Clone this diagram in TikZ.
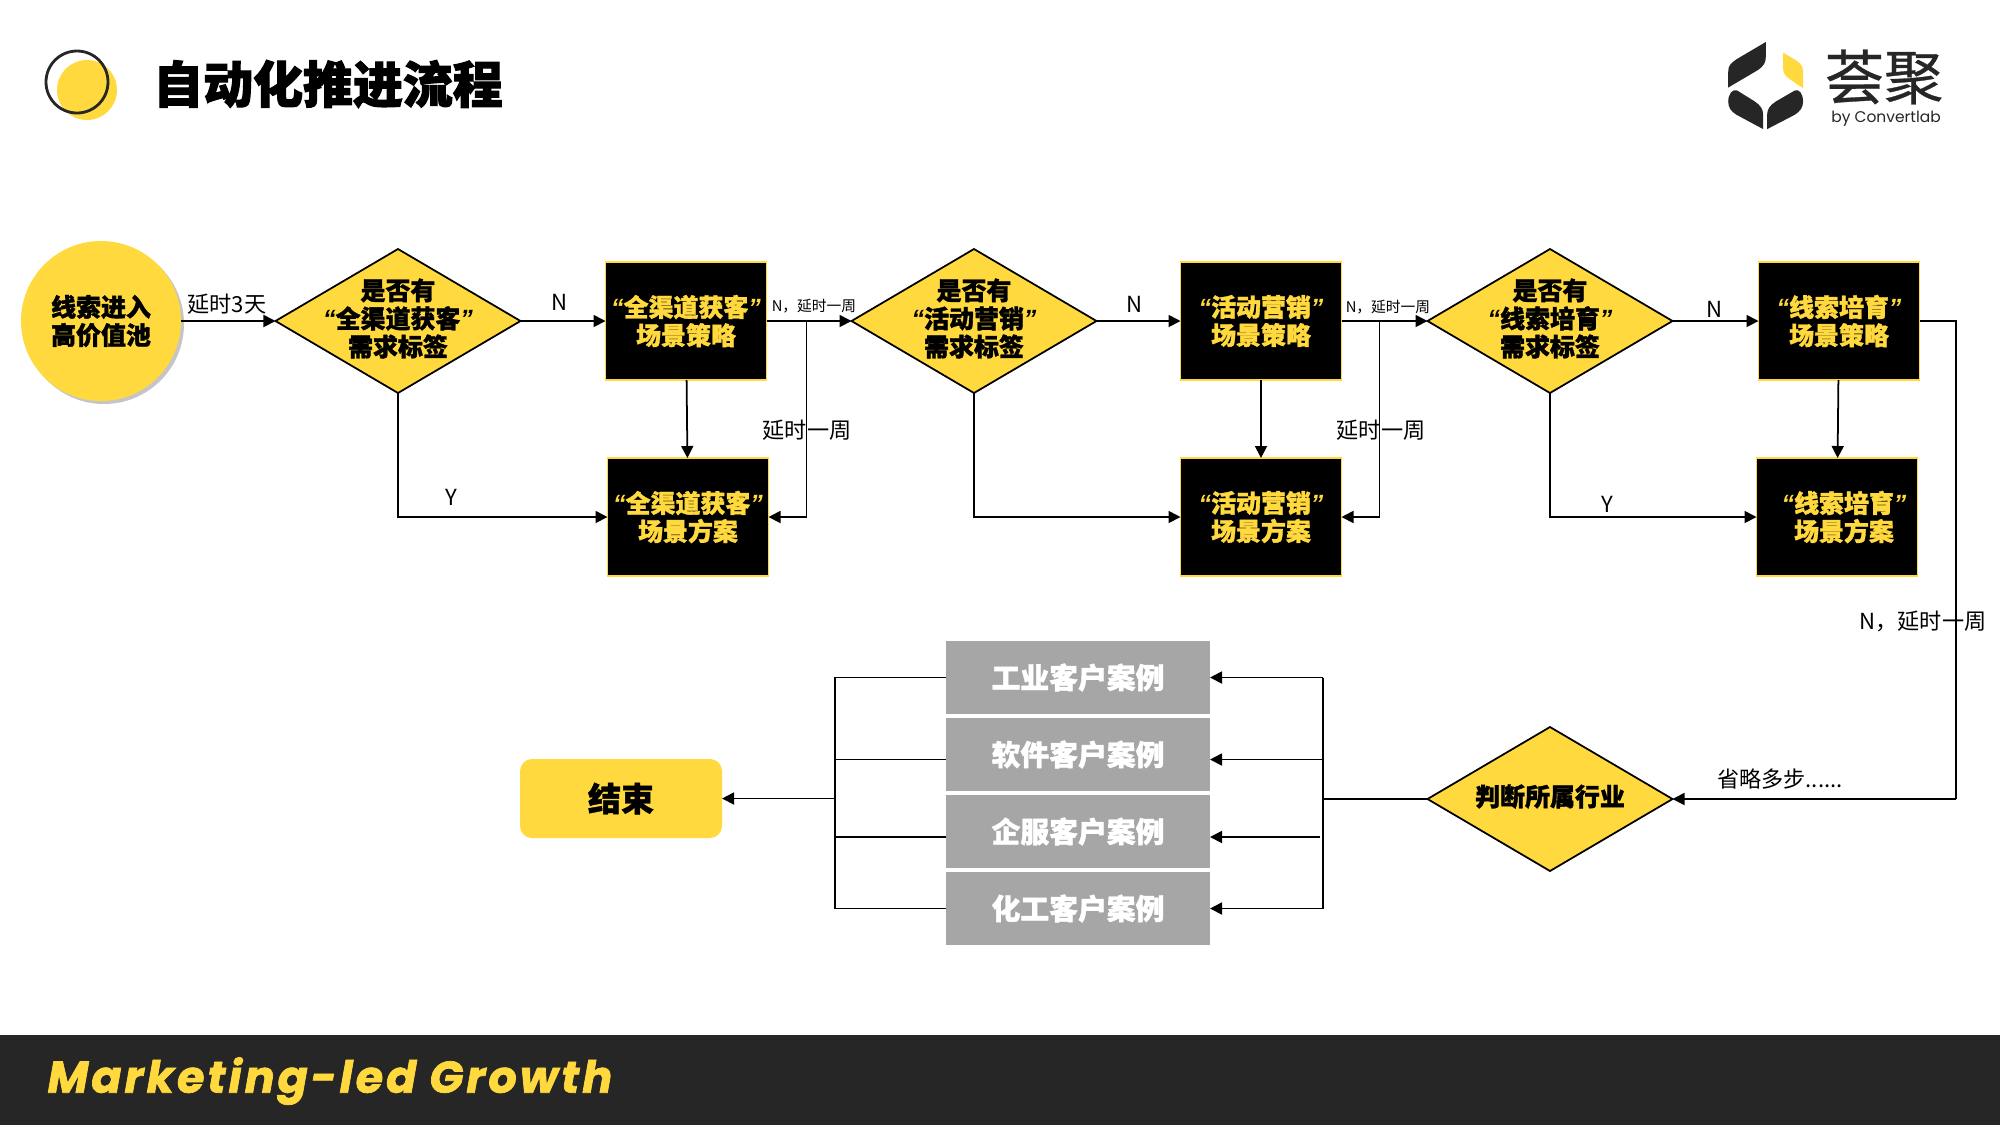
\documentclass[tikz,border=0pt]{standalone}
\usepackage{fontspec}
\usepackage{xcolor}
\usepackage{tikz}
\usetikzlibrary{shapes.geometric, arrows.meta, positioning, calc, shadows}
\setmainfont{Noto Sans CJK SC}[BoldFeatures={FakeBold=1.4}]
\newfontfamily\quotefont{Liberation Sans}
\newfontfamily\titlefont[BoldFeatures={FakeBold=2.2}]{Noto Sans CJK SC}
\newfontfamily\logonamefont[FakeBold=0.5]{Noto Sans CJK SC}
\newfontfamily\bandfont[LetterSpace=7,BoldItalicFeatures={FakeBold=1.6}]{Poppins}
\newfontfamily\logofont{Poppins}
\definecolor{brandyellow}{HTML}{FFD93D}
\definecolor{banddark}{HTML}{262626}
\definecolor{casegray}{HTML}{A6A6A6}
\newcommand{\quoted}[1]{{\quotefont\bfseries\itshape “}#1{\quotefont\bfseries\itshape ”}}
\tikzset{
  startpool/.style={circle, minimum size=1.6cm, inner sep=0pt, outer sep=0pt, fill=brandyellow, align=center, font=\fontsize{7.1}{8}\selectfont\bfseries, drop shadow={shadow xshift=0.03cm, shadow yshift=-0.03cm, fill=black!45, opacity=0.5}},
  decision/.style={diamond, minimum width=2.45cm, minimum height=1.44cm, inner sep=0pt, outer sep=0pt, draw=black, line width=0.5pt, fill=brandyellow},
  decisiontext/.style={align=center, inner sep=0pt, yshift=0.025cm, font=\fontsize{7.1}{8}\selectfont\bfseries},
  scene/.style={rectangle, minimum width=1.61cm, minimum height=1.18cm, inner sep=0pt, outer sep=0pt, draw=brandyellow, line width=0.5pt, fill=black, text=brandyellow, align=center, font=\fontsize{7.1}{8}\selectfont\bfseries},
  casebox/.style={rectangle, minimum width=2.64cm, minimum height=0.73cm, inner sep=0pt, outer sep=0pt, fill=casegray, text=white, font=\fontsize{8.2}{9}\selectfont\bfseries},
  flowarrow/.style={line width=0.5pt, -{Triangle[length=0.12cm, width=0.12cm]}},
  flowline/.style={line width=0.5pt},
  biglabel/.style={font=\fontsize{6.3}{7}\selectfont, inner sep=0pt},
  smalllabel/.style={font=\fontsize{4.2}{5}\selectfont, inner sep=0pt}
}
\begin{document}
\begin{tikzpicture}
    \useasboundingbox (0,0) rectangle (20,-11.25);

    % Header
    \fill[brandyellow] (0.87,-0.90) circle (0.30);
    \draw[banddark, line width=0.8pt] (0.77,-0.82) circle (0.31);
    \node[font=\titlefont\fontsize{14.2}{15}\selectfont\bfseries, inner sep=0pt] (title) at (3.28,-0.84) {自动化推进流程};

    % Logo
    \begin{scope}[shift={(16.8,-0.2)}, x=0.00333cm, y=-0.00333cm]
      \fill[banddark] (258,66) -- (170,118) .. controls (152,130) and (145,138) .. (145,155) -- (145,203) -- (235,150) .. controls (252,138) and (258,128) .. (258,110) -- cycle;
      \fill[brandyellow] (310,98) -- (350,122) .. controls (364,132) and (370,140) .. (370,155) -- (370,205) -- (330,178) .. controls (316,168) and (310,160) .. (310,145) -- cycle;
      \fill[banddark] (172,212) -- (225,245) .. controls (242,257) and (250,268) .. (250,285) -- (250,328) -- (170,285) .. controls (152,274) and (145,262) .. (145,245) .. controls (145,222) and (158,206) .. (172,212) -- cycle;
      \fill[banddark] (345,212) -- (288,245) .. controls (270,257) and (262,268) .. (262,285) -- (262,328) -- (345,285) .. controls (362,274) and (370,262) .. (370,245) .. controls (370,222) and (358,206) .. (345,212) -- cycle;
    \end{scope}
    \node[font=\logonamefont\fontsize{16.8}{17}\selectfont, text=banddark, inner sep=0pt] (logoname) at (18.84,-0.77) {荟聚};
    \node[font=\logofont\fontsize{4.4}{5}\selectfont, text=banddark, inner sep=0pt] (logoby) at (18.86,-1.19) {by Convertlab};

    % Footer
    \fill[banddark] (0,-10.35) rectangle (20,-11.25);
    \node[anchor=west, text=brandyellow, font=\bandfont\fontsize{12.6}{14}\selectfont\bfseries\itshape, inner sep=0pt] (slogan) at (0.47,-10.81) {Marketing-led Growth};

    % Top row
    \node[startpool] (pool) at (1.01,-3.21) {线索进入\\高价值池};
    \node[decision, right=0.945cm of pool, label={[decisiontext]center:{是否有\\\quoted{全渠道获客}\\需求标签}}] (ask1) {};
    \node[scene, right=0.85cm of ask1] (plan1) {\quoted{全渠道获客}\\场景策略};
    \node[decision, right=0.85cm of plan1, label={[decisiontext]center:{是否有\\\quoted{活动营销}\\需求标签}}] (ask2) {};
    \node[scene, right=0.84cm of ask2] (plan2) {\quoted{活动营销}\\场景策略};
    \node[decision, right=0.86cm of plan2, label={[decisiontext]center:{是否有\\\quoted{线索培育}\\需求标签}}] (ask3) {};
    \node[scene, right=0.86cm of ask3] (plan3) {\quoted{线索培育}\\场景策略};

    % Second row
    \node[scene, below right=0.78cm and -1.59cm of plan1] (case1) {\quoted{全渠道获客}\\场景方案};
    \node[scene, below=0.78cm of plan2] (case2) {\quoted{活动营销}\\场景方案};
    \node[scene, below left=0.78cm and -1.59cm of plan3] (case3) {\hspace*{0.14cm}\quoted{线索培育}\\\hspace*{0.14cm}场景方案};

    % Bottom row
    \node[decision, below=3.34cm of ask3, label={[decisiontext]center:{判断所属行业}}] (judge) {};
    \node[casebox] (trade1) at (10.78,-6.775) {工业客户案例};
    \node[casebox, below=0.04cm of trade1] (trade2) {软件客户案例};
    \node[casebox, below=0.04cm of trade2] (trade3) {企服客户案例};
    \node[casebox, below=0.04cm of trade3] (trade4) {化工客户案例};
    \node[rectangle, rounded corners=0.12cm, minimum width=2.02cm, minimum height=0.79cm, inner sep=0pt, outer sep=0pt, fill=brandyellow, font=\fontsize{9.4}{10}\selectfont\bfseries] (finish) at (6.21,-7.985) {结束};

    \coordinate (busleft) at (8.35,-7.985);
    \coordinate (busright) at (13.23,-7.99);
    \coordinate (farright) at (19.56,-7.99);

    % Arrows
    \draw[flowarrow] (pool) -- (ask1);
    \draw[flowarrow] (ask1) -- (plan1);
    \draw[flowarrow] (plan1) -- (ask2);
    \draw[flowarrow] (ask2) -- (plan2);
    \draw[flowarrow] (plan2) -- (ask3);
    \draw[flowarrow] (ask3) -- (plan3);
    \draw[flowarrow] (plan1) -- (case1);
    \draw[flowarrow] (plan2) -- (case2);
    \draw[flowarrow] (plan3) -- (case3);
    \draw[flowarrow] (ask1.south) |- (case1.west);
    \draw[flowarrow] (ask2.south) |- (case2.west);
    \draw[flowarrow] (ask3.south) |- (case3.west);
    \draw[flowarrow] ($(plan1.east)+(0.40,0)$) |- (case1.east);
    \draw[flowarrow] ($(plan2.east)+(0.38,0)$) |- (case2.east);
    \draw[flowline] (plan3.east) -| (farright);
    \draw[flowarrow] (farright) -- (judge.east);
    \draw[flowline] (judge.west) -- (busright);
    \draw[flowline] (busright |- trade1.east) -- (busright |- trade4.east);
    \draw[flowarrow] (busright |- trade1.east) -- (trade1.east);
    \draw[flowarrow] ($(busright |- trade2.east)+(0,-0.05)$) -- ([yshift=-0.05cm]trade2.east);
    \draw[flowarrow] ($(busright |- trade3.east)+(-0.03,-0.055)$) -- ([yshift=-0.055cm]trade3.east);
    \draw[flowarrow] (busright |- trade4.east) -- (trade4.east);
    \draw[flowline] (trade1.west) -- (busleft |- trade1.west) -- (busleft |- trade4.west) -- (trade4.west);
    \draw[flowline] ([yshift=-0.05cm]trade2.west) -- ($(busleft |- trade2.west)+(0,-0.05)$);
    \draw[flowline] ([yshift=-0.055cm]trade3.west) -- ($(busleft |- trade3.west)+(0,-0.055)$);
    \draw[flowarrow] (busleft) -- (finish.east);

    % Labels
    \node[biglabel] (delay3) at (2.27,-3.04) {延时3天};
    \node[biglabel] (no1) at (5.59,-3.02) {N};
    \node[biglabel] (no2) at (11.34,-3.04) {N};
    \node[biglabel] (no3) at (17.14,-3.09) {N};
    \node[biglabel] (yes1) at (4.51,-4.97) {Y};
    \node[biglabel] (yes3) at (16.07,-5.04) {Y};
    \node[smalllabel] (week1) at (8.14,-3.06) {N，延时一周};
    \node[smalllabel] (week2) at (13.88,-3.07) {N，延时一周};
    \node[biglabel] (wait1) at (8.07,-4.30) {延时一周};
    \node[biglabel] (wait2) at (13.81,-4.30) {延时一周};
    \node[biglabel] (week3) at (19.23,-6.21) {N，延时一周};
    \node[biglabel] (omit) at (17.80,-7.79) {省略多步......};
\end{tikzpicture}
\end{document}
